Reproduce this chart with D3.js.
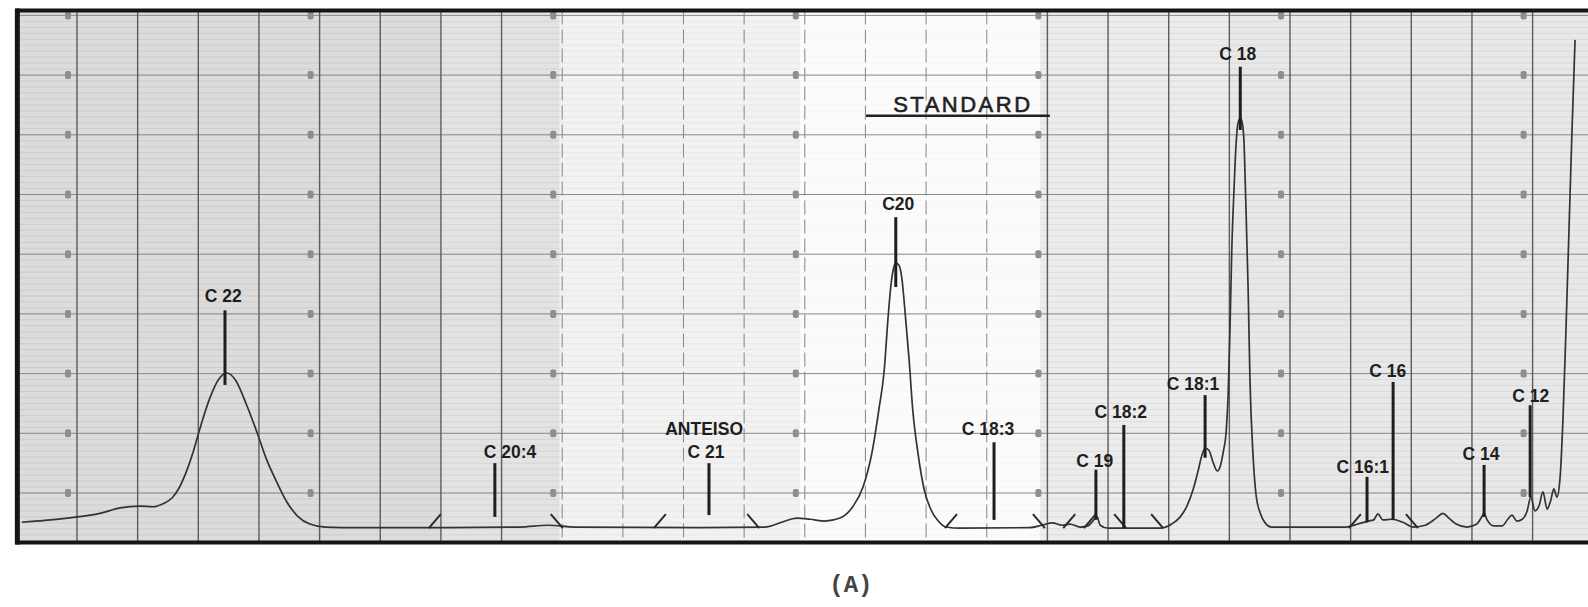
<!DOCTYPE html>
<html><head><meta charset="utf-8">
<script src="https://cdn.jsdelivr.net/npm/d3@7"></script>
<style>html,body{margin:0;padding:0;background:#fff;} svg{display:block;}</style>
</head><body><svg id="c" width="1588" height="607"></svg>
<script>
// ---------- DATA (x in chart divisions, y in chart divisions) ----------
const traceX = [0.09,0.47,0.84,1.38,1.71,2.04,2.25,2.42,2.57,2.68,2.80,2.91,3.03,3.19,3.34,3.47,3.62,3.79,3.97,4.13,4.30,4.46,4.64,4.84,5.09,5.67,6.82,8.30,8.77,9.21,11.27,12.34,12.62,12.87,13.09,13.33,13.58,13.79,13.96,14.11,14.22,14.31,14.37,14.42,14.47,14.50,14.55,14.60,14.65,14.72,14.78,14.87,14.97,15.08,15.20,15.33,15.56,16.71,16.91,17.08,17.24,17.37,17.54,17.67,17.75,17.82,17.87,18.00,18.86,19.05,19.19,19.30,19.40,19.48,19.55,19.60,19.66,19.73,19.80,19.85,19.90,19.95,19.98,20.01,20.04,20.08,20.11,20.14,20.18,20.21,20.24,20.27,20.31,20.34,20.39,20.44,20.51,20.59,20.70,21.17,21.91,22.12,22.29,22.38,22.45,22.53,22.68,22.86,23.04,23.23,23.41,23.52,23.62,23.74,23.92,24.08,24.15,24.20,24.25,24.36,24.50,24.59,24.66,24.74,24.83,24.91,24.97,25.04,25.11,25.17,25.24,25.30,25.35,25.40,25.45,25.50,25.55,25.60,25.65,25.70];
const traceY = [0.51,0.54,0.58,0.66,0.75,0.78,0.77,0.82,0.92,1.08,1.35,1.67,2.09,2.59,2.91,3.01,2.88,2.49,2.01,1.55,1.17,0.85,0.61,0.48,0.43,0.42,0.42,0.43,0.46,0.43,0.42,0.43,0.51,0.58,0.56,0.53,0.58,0.77,1.10,1.69,2.39,3.06,3.90,4.48,4.79,4.85,4.82,4.60,4.07,3.23,2.39,1.64,1.05,0.72,0.53,0.43,0.41,0.42,0.46,0.50,0.46,0.48,0.43,0.45,0.53,0.60,0.46,0.41,0.41,0.48,0.60,0.78,1.05,1.35,1.64,1.75,1.72,1.52,1.37,1.45,1.69,2.06,2.64,3.73,5.07,6.16,6.83,7.18,7.28,7.21,6.91,5.91,4.40,2.89,1.64,0.97,0.66,0.50,0.43,0.43,0.43,0.48,0.53,0.55,0.65,0.55,0.56,0.51,0.43,0.46,0.58,0.66,0.58,0.48,0.43,0.48,0.58,0.66,0.55,0.45,0.45,0.56,0.63,0.53,0.56,0.70,0.93,0.70,0.80,1.02,0.73,0.88,1.07,0.93,1.22,2.22,3.73,5.41,7.08,8.59];

const peakNames  = ["C 22","C 20:4","C 21","C20","C 18:3","C 19","C 18:2","C 18:1","C 18","C 16:1","C 16","C 14","C 12"];
const peakX      = [3.44, 7.89, 11.42, 14.50, 16.12, 17.80, 18.26, 19.60, 20.18, 22.27, 22.70, 24.20, 24.96];
const stemTop    = [4.06, 1.50, 1.50, 5.62, 1.85, 1.39, 2.14, 2.64, 8.14, 1.27, 2.86, 1.47, 2.47];
const stemBottom = [2.81, 0.60, 0.63, 4.45, 0.55, 0.55, 0.41, 1.59, 7.08, 0.51, 0.55, 0.60, 0.93];
const labelX     = [3.41, 8.14, 11.37, 14.54, 16.02, 17.78, 18.21, 19.40, 20.14, 22.20, 22.61, 24.15, 24.97];
const labelY     = [4.20, 1.59, 1.59, 5.74, 1.97, 1.44, 2.26, 2.73, 8.25, 1.34, 2.94, 1.55, 2.52];

const extraLabels  = ["ANTEISO"];
const extraLabelX  = [11.34];
const extraLabelY  = [1.97];

const standardText = "STANDARD";
const standardX = 15.59, standardY = 7.38;
const standardLineFrom = 14.01, standardLineTo = 17.04, standardLineY = 7.32;

// integration tick marks on baseline: +1 = "/", -1 = "\"
const markX   = [6.90, 8.91, 10.61, 12.15, 15.41, 16.86, 17.36, 17.70, 18.20, 18.81, 22.07, 23.01];
const markDir = [1, -1, 1, -1, 1, -1, 1, 1, -1, -1, 1, -1];
const markY = 0.53;

const xGrid = d3.range(1, 26);
const yGrid = d3.range(1, 10);
const caption = "(A)";
const captionX = 13.76;

// ---------- SCALES ----------
const W = 1588, H = 607;
const x = d3.scaleLinear().domain([0, 26]).range([16.35, 16.35 + 60.65 * 26]);
const y = d3.scaleLinear().domain([0, 10]).range([552.7, 552.7 - 597]);
const yTopV = 9.08, yBotV = 0.17;
const pTop = y(yTopV), pBot = y(yBotV), pLeft = x(0);

const svg = d3.select("#c");

// paper background zones
const zoneStart = [0, 6.99, 8.96, 12.92, 16.88, 20.0];
const zoneEnd   = [6.99, 8.96, 12.92, 16.88, 20.0, 26];
const zoneFill  = ["#dcdcdc", "#e3e3e3", "#f2f2f2", "#fbfbfb", "#ececec", "#e8e8e8"];
const zoneRule  = [0.42, 0.35, 0.18, 0.06, 0.3, 0.32];
const bg = svg.append("g");
zoneStart.forEach((s, i) => {
  const xe = Math.min(W, x(zoneEnd[i]));
  bg.append("rect").attr("x", x(s)).attr("y", pTop)
    .attr("width", xe - x(s)).attr("height", pBot - pTop)
    .attr("fill", zoneFill[i]);
  d3.range(0.2, 9.1, 0.1).forEach(v => {
    bg.append("line").attr("x1", x(s)).attr("x2", xe)
      .attr("y1", y(v)).attr("y2", y(v))
      .attr("stroke", "#a8a8a8").attr("stroke-width", 0.7).attr("opacity", zoneRule[i]);
  });
});

// major horizontal grid
svg.append("g").selectAll("line").data(yGrid).join("line")
  .attr("x1", pLeft).attr("x2", W).attr("y1", d => y(d)).attr("y2", d => y(d))
  .attr("stroke", "#8a8a8a").attr("stroke-width", 1);

// vertical grid
const midLine = d => d >= 9 && d <= 16;
svg.append("g").selectAll("line").data(xGrid).join("line")
  .attr("x1", d => x(d)).attr("x2", d => x(d)).attr("y1", pTop).attr("y2", pBot)
  .attr("stroke", d => midLine(d) ? "#8f8f8f" : "#5c5c5c")
  .attr("stroke-width", d => midLine(d) ? 1.1 : 1.4)
  .attr("stroke-dasharray", d => midLine(d) ? "14,5" : null);

// printed paper numerals (small marks)
const numCols = d3.range(1, 26, 4);
const nums = [];
numCols.forEach(c => yGrid.forEach(v => nums.push([c, v])));
svg.append("g").selectAll("rect").data(nums).join("rect")
  .attr("x", d => x(d[0]) - 12).attr("y", d => y(d[1]) - 4)
  .attr("width", 6).attr("height", 8).attr("rx", 2)
  .attr("fill", "#8e8e8e");

// clip
svg.append("clipPath").attr("id", "plot").append("rect")
  .attr("x", pLeft).attr("y", pTop).attr("width", W - pLeft).attr("height", pBot - pTop);

// trace
const line = d3.line().x(d => x(d[0])).y(d => y(d[1])).curve(d3.curveMonotoneX);
svg.append("path").attr("clip-path", "url(#plot)")
  .attr("d", line(d3.zip(traceX, traceY)))
  .attr("fill", "none").attr("stroke", "#333").attr("stroke-width", 1.7)
  .attr("stroke-linejoin", "round");

// baseline tick marks
svg.append("g").selectAll("line").data(d3.zip(markX, markDir)).join("line")
  .attr("x1", d => x(d[0]) - 6).attr("x2", d => x(d[0]) + 6)
  .attr("y1", d => y(markY) + (d[1] > 0 ? 7 : -7))
  .attr("y2", d => y(markY) + (d[1] > 0 ? -7 : 7))
  .attr("stroke", "#2a2a2a").attr("stroke-width", 2);

// peak stems
svg.append("g").selectAll("line").data(d3.range(peakNames.length)).join("line")
  .attr("x1", i => x(peakX[i])).attr("x2", i => x(peakX[i]))
  .attr("y1", i => y(stemTop[i])).attr("y2", i => y(stemBottom[i]))
  .attr("stroke", "#1e1e1e").attr("stroke-width", 3);

// peak labels
const lab = svg.append("g").attr("font-family", "'Liberation Sans', Arial, sans-serif")
  .attr("font-weight", "bold").attr("font-size", 17.5).attr("fill", "#1e1e1e")
  .attr("text-anchor", "middle");
lab.selectAll("text.p").data(d3.range(peakNames.length)).join("text").attr("class", "p")
  .attr("x", i => x(labelX[i])).attr("y", i => y(labelY[i])).text(i => peakNames[i]);
lab.selectAll("text.e").data(d3.range(extraLabels.length)).join("text").attr("class", "e")
  .attr("x", i => x(extraLabelX[i])).attr("y", i => y(extraLabelY[i])).text(i => extraLabels[i]);

// STANDARD
svg.append("text").attr("x", x(standardX) + 1).attr("y", y(standardY))
  .attr("text-anchor", "middle").attr("font-family", "'Liberation Sans', Arial, sans-serif")
  .attr("font-size", 22).attr("letter-spacing", "2.5px").attr("fill", "#222")
  .attr("stroke", "#222").attr("stroke-width", 0.6)
  .text(standardText);
svg.append("line").attr("x1", x(standardLineFrom)).attr("x2", x(standardLineTo))
  .attr("y1", y(standardLineY)).attr("y2", y(standardLineY))
  .attr("stroke", "#222").attr("stroke-width", 2.5);

// frame
const frame = svg.append("g").attr("stroke", "#151515");
frame.append("line").attr("x1", pLeft + 1).attr("x2", pLeft + 1).attr("y1", pTop - 2).attr("y2", pBot + 2).attr("stroke-width", 5);
frame.append("line").attr("x1", pLeft - 1).attr("x2", W).attr("y1", pTop).attr("y2", pTop).attr("stroke-width", 4);
frame.append("line").attr("x1", pLeft - 1).attr("x2", W).attr("y1", pBot).attr("y2", pBot).attr("stroke-width", 4);

// caption
svg.append("text").attr("x", x(captionX)).attr("y", pBot + 49)
  .attr("text-anchor", "middle").attr("font-family", "'Liberation Mono', 'Courier New', monospace")
  .attr("font-weight", "bold").attr("font-size", 24).attr("fill", "#444")
  .text(caption);
</script></body></html>
